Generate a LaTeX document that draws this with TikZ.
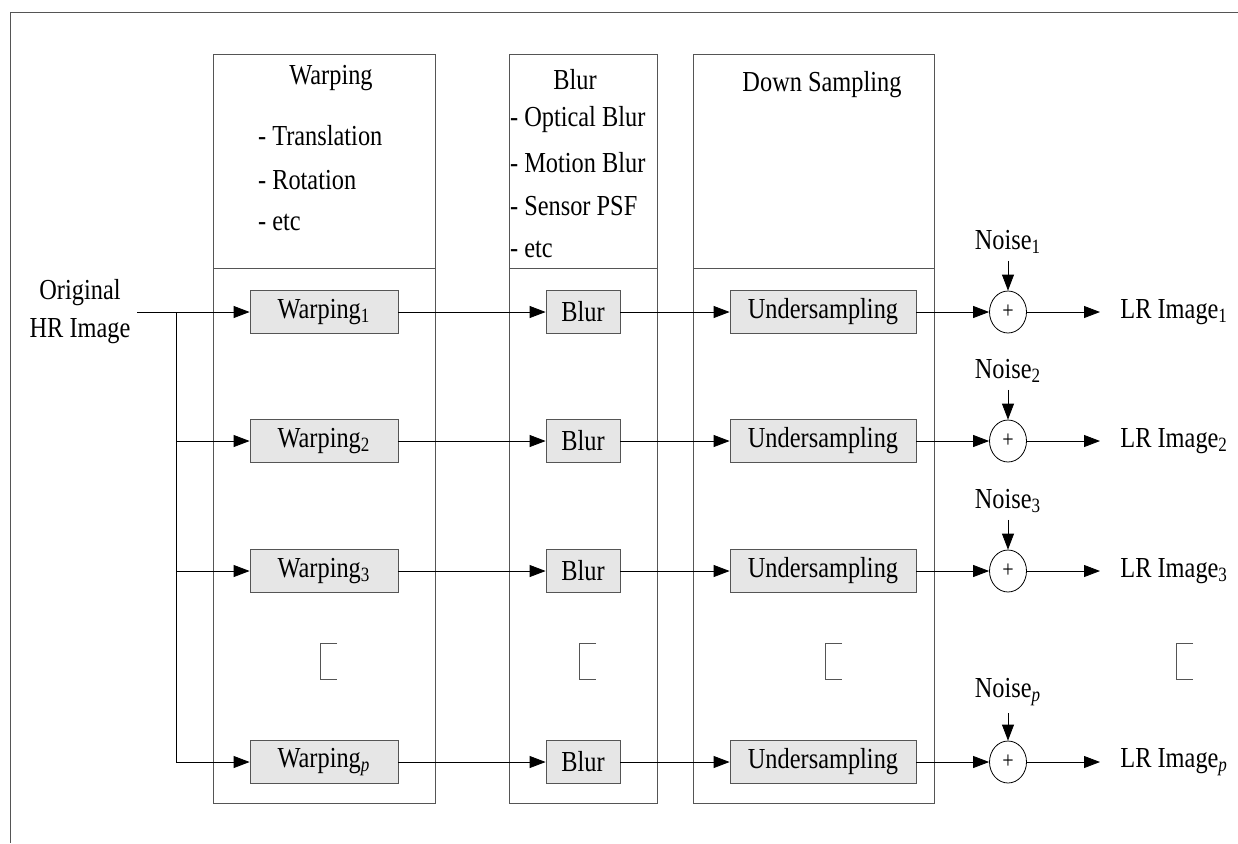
\documentclass[tikz,border=0pt]{standalone}
\usepackage{fontspec}
\setmainfont{Liberation Serif}[FakeStretch=0.84]
\usetikzlibrary{arrows.meta,shapes.geometric}
\definecolor{boxgray}{HTML}{E6E6E6}
\definecolor{linegray}{HTML}{555555}
\tikzset{
  blk/.style={draw=linegray, fill=boxgray, minimum height=21.5pt, inner sep=0pt},
  colbox/.style={draw=linegray},
  sumnode/.style={draw, ellipse, minimum width=18.5pt, minimum height=21pt, inner sep=0pt},
  arr/.style={-{Triangle[length=8pt,width=6pt]}},
  dotmark/.style={draw=linegray},
}

\begin{document}
\begin{tikzpicture}[x=0.5pt,y=-0.5pt,font=\fontsize{14.5}{17}\selectfont]
\useasboundingbox (0,0) rectangle (1238,843);
\draw[colbox] (1238,12) -- (10,12) -- (10,843);
% stage columns
\draw[colbox] (213,54) rectangle (435,803) (213,268) -- (435,268);
\draw[colbox] (509,54) rectangle (657,803) (509,268) -- (657,268);
\draw[colbox] (693,54) rectangle (934,803) (693,268) -- (934,268);
\node at (331,78) {Warping};
\node[anchor=west] at (251,136) {- Translation};
\node[anchor=west] at (251,180) {- Rotation};
\node[anchor=west] at (251,222) {- etc};
\node at (575,80) {Blur};
\node[anchor=west] at (503,120) {- Optical Blur};
\node[anchor=west] at (503,163) {- Motion Blur};
\node[anchor=west] at (503,206) {- Sensor PSF};
\node[anchor=west] at (503,249) {- etc};
\node at (822,85) {Down Sampling};
% input
\node[align=center, font=\fontsize{14.5}{19}\selectfont] (orig) at (80,312) {Original\\HR Image};
\coordinate (split) at (176,312);
% rows
\foreach \n/\s/\y in {1/1/312,2/2/441,3/3/571,4/\textit{p}/762}{
  \node[blk, minimum width=74pt] (warp\n) at (324,\y) {Warping\textsubscript{\s}};
  \node[blk, minimum width=37pt] (blur\n) at (583,\y) {Blur};
  \node[blk, minimum width=93pt] (under\n) at (823,\y) {Undersampling};
  \node[sumnode] (sum\n) at (1008,\y) {\fontsize{12}{12}\selectfont+};
  \node (noise\n) at (1008,\y-70) {Noise\textsubscript{\s}};
  \node[anchor=west, inner xsep=10pt] (lr\n) at (1100,\y) {LR Image\textsubscript{\s}};
  \draw[arr] (split) |- (warp\n.west);
  \draw[arr] (warp\n) -- (blur\n);
  \draw[arr] (blur\n) -- (under\n);
  \draw[arr] (under\n) -- (sum\n);
  \draw[arr] (noise\n) -- (sum\n);
  \draw[arr] (sum\n) -- (lr\n.west);
}
\draw (orig.east) -- (split);
% dots between rows
\foreach \x in {320,579,825,1176}
  \draw[dotmark] (\x+17,643) -- (\x,643) -- (\x,679) -- (\x+17,679);
\end{tikzpicture}
\end{document}
